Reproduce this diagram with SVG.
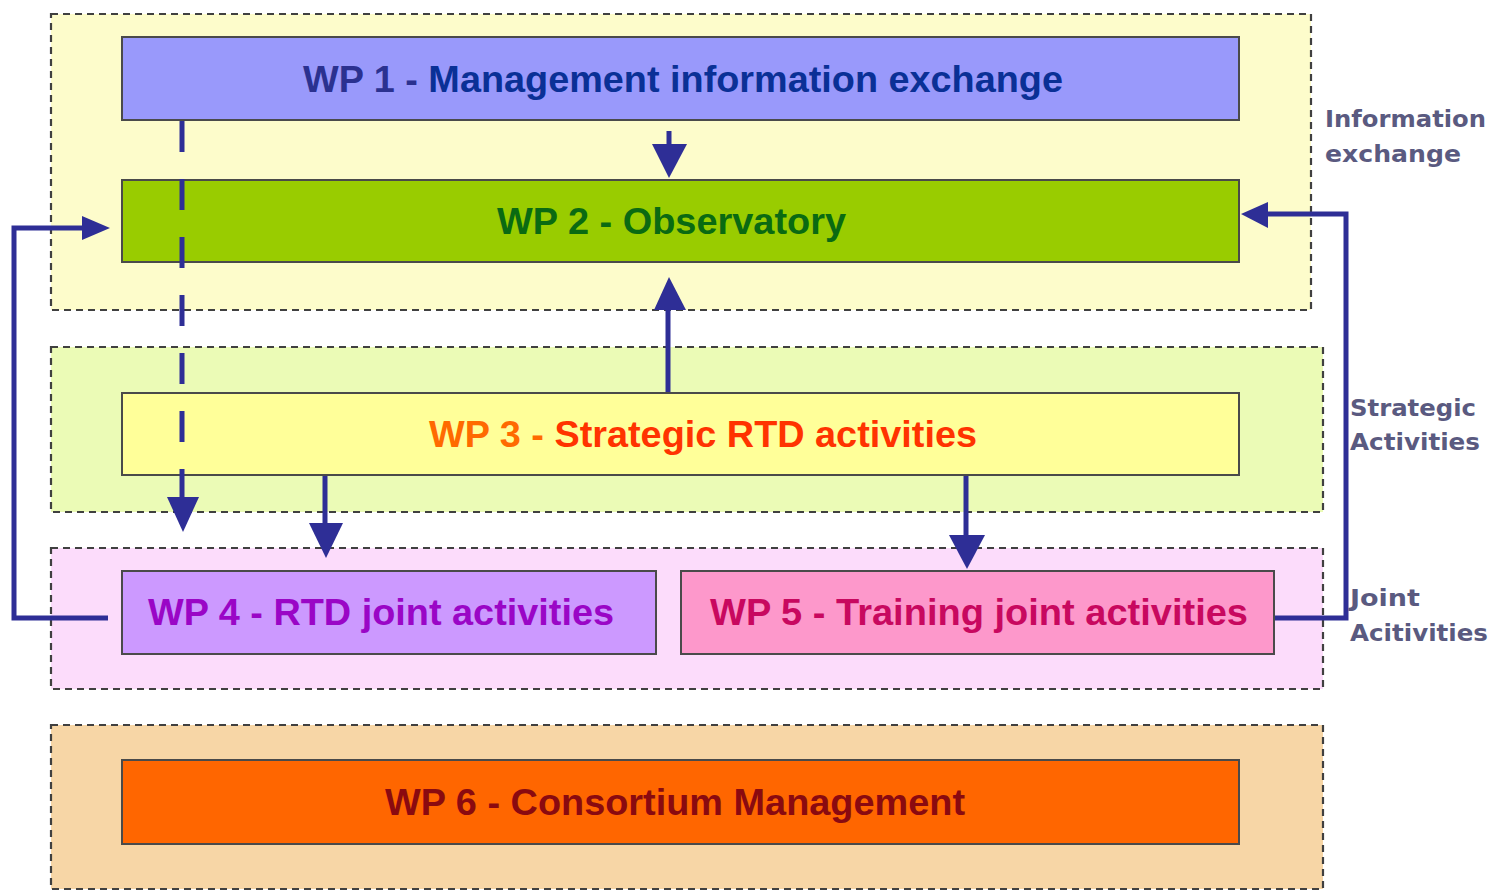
<svg xmlns="http://www.w3.org/2000/svg" width="1494" height="891" viewBox="0 0 1494 891">
<defs>
<style>
.grp{stroke:#404040;stroke-width:2.2;stroke-dasharray:7,5}
.box{stroke:#4a4a4a;stroke-width:2}
.t{font-family:"Liberation Sans",Arial,sans-serif;font-weight:bold;font-size:36px;text-anchor:start}
.side{font-family:"DejaVu Sans","Liberation Sans",sans-serif;font-size:23px;font-weight:bold;fill:#5a5a80}
.ln{stroke:#2e2e96;stroke-width:5;fill:none}
.ah{fill:#2e2e96}
</style>
</defs>
<rect width="1494" height="891" fill="#ffffff"/>
<g id="group-info">
<rect class="grp" x="51" y="14" width="1260" height="296" fill="#fdfccb"/>
<text class="side" x="1325" y="127" textLength="161" lengthAdjust="spacingAndGlyphs">Information</text>
<text class="side" x="1325" y="162" textLength="136" lengthAdjust="spacingAndGlyphs">exchange</text>
</g>
<g id="group-strategic">
<rect class="grp" x="51" y="347" width="1272" height="165" fill="#ebfbb6"/>
<text class="side" x="1350" y="416" textLength="126" lengthAdjust="spacingAndGlyphs">Strategic</text>
<text class="side" x="1350" y="450" textLength="130" lengthAdjust="spacingAndGlyphs">Activities</text>
</g>
<g id="group-joint">
<rect class="grp" x="51" y="548" width="1272" height="141" fill="#fcdcfb"/>
<text class="side" x="1350" y="606" textLength="70" lengthAdjust="spacingAndGlyphs">Joint</text>
<text class="side" x="1350" y="641" textLength="138" lengthAdjust="spacingAndGlyphs">Acitivities</text>
</g>
<g id="group-mgmt">
<rect class="grp" x="51" y="725" width="1272" height="164" fill="#f7d6a6"/>
</g>
<g id="wp1">
<rect class="box" x="122" y="37" width="1117" height="83" fill="#9999fb"/>
<text class="t" x="303" y="92" textLength="760" lengthAdjust="spacingAndGlyphs"><tspan fill="#2b3190">WP 1 - </tspan><tspan fill="#0a3096">Management information exchange</tspan></text>
</g>
<g id="wp2">
<rect class="box" x="122" y="180" width="1117" height="82" fill="#99cc00"/>
<text class="t" x="497" y="234" textLength="349" lengthAdjust="spacingAndGlyphs" fill="#0a6a12">WP 2 - Observatory</text>
</g>
<g id="wp3">
<rect class="box" x="122" y="393" width="1117" height="82" fill="#ffff99"/>
<text class="t" x="429" y="447" textLength="548" lengthAdjust="spacingAndGlyphs"><tspan fill="#ff6a00">WP 3 - </tspan><tspan fill="#ff3300">Strategic RTD activities</tspan></text>
</g>
<g id="wp4">
<rect class="box" x="122" y="571" width="534" height="83" fill="#cc99ff"/>
<text class="t" x="148" y="625" textLength="466" lengthAdjust="spacingAndGlyphs" fill="#9a06c6">WP 4 - RTD joint activities</text>
</g>
<g id="wp5">
<rect class="box" x="681" y="571" width="593" height="83" fill="#fd98cb"/>
<text class="t" x="710" y="625" textLength="538" lengthAdjust="spacingAndGlyphs" fill="#c8085f">WP 5 - Training joint activities</text>
</g>
<g id="wp6">
<rect class="box" x="122" y="760" width="1117" height="84" fill="#ff6600"/>
<text class="t" x="385" y="815" textLength="580" lengthAdjust="spacingAndGlyphs" fill="#8a0a10">WP 6 - Consortium Management</text>
</g>
<g id="connectors">
<line class="ln" x1="669" y1="131" x2="669" y2="146" stroke-width="7"/>
<polygon class="ah" points="652,144 687,144 669,178"/>
<line class="ln" x1="182" y1="121" x2="182" y2="500" stroke-width="7" stroke-dasharray="31,27"/>
<polygon class="ah" points="167,497 199,497 183,532"/>
<line class="ln" x1="668" y1="392" x2="668" y2="306" stroke-width="6"/>
<polygon class="ah" points="654,310 686,310 669,277"/>
<line class="ln" x1="325" y1="476" x2="325" y2="526" stroke-width="6"/>
<polygon class="ah" points="309,523 343,523 326,558"/>
<line class="ln" x1="966" y1="476" x2="966" y2="538" stroke-width="6"/>
<polygon class="ah" points="949,535 985,535 967,569"/>
<polyline class="ln" points="108,618 14,618 14,228 85,228" stroke-width="4"/>
<polygon class="ah" points="82,216 110,228 82,240"/>
<polyline class="ln" points="1275,618 1346,618 1346,214 1265,214" stroke-width="4"/>
<polygon class="ah" points="1268,202 1241,214 1268,228"/>
</g>
</svg>
